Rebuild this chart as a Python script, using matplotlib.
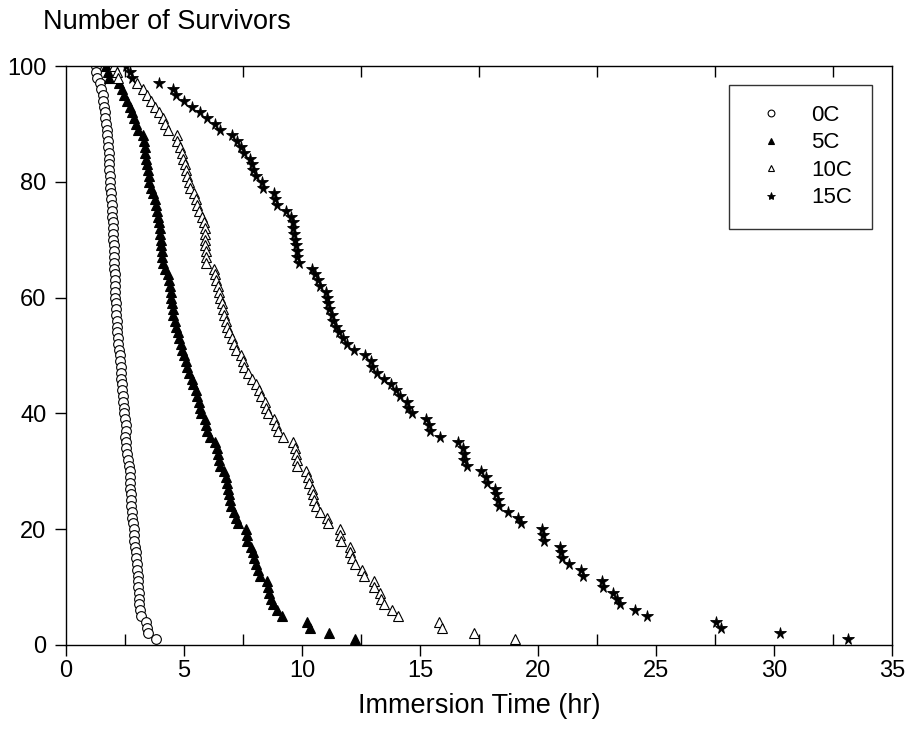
import numpy as np
import matplotlib.pyplot as plt

plt.rcParams['font.family'] = ['Liberation Sans', 'DejaVu Sans']

# number of survivors, one point per death
survivors = list(range(100, 0, -1))

# immersion time (hr) at which each survivor count was reached
time_0c = [1.26, 1.27, 1.30, 1.45, 1.50, 1.55, 1.58, 1.61, 1.64, 1.67,
           1.70, 1.72, 1.74, 1.76, 1.78, 1.80, 1.81, 1.83, 1.84, 1.86,
           1.87, 1.88, 1.90, 1.91, 1.93, 1.94, 1.95, 1.97, 1.98, 2.00,
           2.01, 2.02, 2.03, 2.04, 2.04, 2.05, 2.06, 2.06, 2.07, 2.07,
           2.08, 2.10, 2.11, 2.12, 2.14, 2.15, 2.17, 2.19, 2.22, 2.25,
           2.29, 2.30, 2.32, 2.33, 2.35, 2.36, 2.38, 2.40, 2.42, 2.44,
           2.46, 2.48, 2.52, 2.55, 2.48, 2.52, 2.55, 2.58, 2.62, 2.66,
           2.70, 2.71, 2.72, 2.73, 2.74, 2.75, 2.77, 2.79, 2.81, 2.83,
           2.86, 2.88, 2.90, 2.92, 2.95, 2.97, 2.99, 3.01, 3.03, 3.05,
           3.07, 3.08, 3.09, 3.11, 3.14, 3.17, 3.40, 3.42, 3.49, 3.82]

time_5c = [1.70, 1.78, 1.84, 2.26, 2.38, 2.45, 2.57, 2.69, 2.79, 2.88,
           2.98, 3.07, 3.25, 3.30, 3.33, 3.35, 3.38, 3.42, 3.46, 3.50,
           3.53, 3.62, 3.70, 3.77, 3.83, 3.87, 3.91, 3.94, 3.97, 3.99,
           4.01, 4.03, 4.05, 4.06, 4.12, 4.20, 4.30, 4.36, 4.40, 4.43,
           4.46, 4.49, 4.52, 4.55, 4.62, 4.68, 4.74, 4.80, 4.86, 4.92,
           5.00, 5.07, 5.14, 5.21, 5.33, 5.40, 5.49, 5.57, 5.63, 5.67,
           5.72, 5.88, 5.93, 5.98, 6.10, 6.30, 6.39, 6.43, 6.47, 6.52,
           6.69, 6.76, 6.83, 6.88, 6.91, 6.94, 6.97, 7.10, 7.20, 7.27,
           7.62, 7.66, 7.68, 7.84, 7.91, 7.97, 8.04, 8.12, 8.22, 8.50,
           8.55, 8.62, 8.68, 8.76, 8.92, 9.14, 10.21, 10.32, 11.13, 12.26]

time_10c = [2.04, 2.15, 2.22, 3.00, 3.25, 3.42, 3.58, 3.75, 3.92, 4.10,
            4.20, 4.34, 4.70, 4.72, 4.81, 4.91, 4.97, 5.03, 5.09, 5.14,
            5.19, 5.26, 5.43, 5.50, 5.57, 5.65, 5.76, 5.83, 5.88, 5.90,
            5.90, 5.90, 5.91, 5.92, 5.94, 6.25, 6.32, 6.37, 6.42, 6.48,
            6.54, 6.61, 6.65, 6.70, 6.76, 6.84, 6.92, 7.03, 7.12, 7.20,
            7.40, 7.50, 7.55, 7.72, 7.90, 8.04, 8.16, 8.28, 8.44, 8.49,
            8.54, 8.82, 8.91, 8.97, 9.18, 9.60, 9.70, 9.76, 9.79, 9.80,
            10.18, 10.25, 10.30, 10.42, 10.47, 10.52, 10.58, 10.78, 11.05, 11.12,
            11.63, 11.63, 11.65, 12.02, 12.05, 12.12, 12.26, 12.54, 12.61, 13.07,
            13.07, 13.29, 13.35, 13.46, 13.82, 14.07, 15.80, 15.95, 17.28, 19.02]

time_15c = [2.55, 2.69, 2.79, 3.92, 4.53, 4.67, 5.01, 5.33, 5.66, 5.97,
            6.30, 6.53, 7.03, 7.24, 7.41, 7.52, 7.80, 7.89, 7.93, 8.06,
            8.30, 8.34, 8.82, 8.87, 8.95, 9.30, 9.52, 9.60, 9.63, 9.67,
            9.72, 9.75, 9.77, 9.80, 9.86, 10.42, 10.56, 10.66, 10.75, 11.03,
            11.06, 11.09, 11.13, 11.25, 11.33, 11.43, 11.55, 11.72, 11.91, 12.22,
            12.66, 12.92, 12.97, 13.17, 13.49, 13.75, 14.00, 14.14, 14.45, 14.50,
            14.67, 15.27, 15.39, 15.43, 15.84, 16.60, 16.81, 16.85, 16.88, 16.97,
            17.59, 17.78, 17.84, 18.16, 18.20, 18.30, 18.34, 18.74, 19.15, 19.29,
            20.18, 20.22, 20.25, 20.93, 20.96, 21.03, 21.31, 21.84, 21.89, 22.73,
            22.77, 23.19, 23.33, 23.49, 24.10, 24.61, 27.53, 27.77, 30.26, 33.15]

labels = ['0C', '5C', '10C', '15C']

fig = plt.figure(figsize=(9.07, 7.40), dpi=100)
ax = fig.add_axes([0.0728, 0.1284, 0.9107, 0.7824])

ax.plot(time_0c, survivors, 'o', ls='none', ms=7, mfc='white', mec='black', mew=0.8, label=labels[0])
ax.plot(time_5c, survivors, '^', ls='none', ms=7, mfc='black', mec='black', mew=0.8, label=labels[1])
ax.plot(time_10c, survivors, '^', ls='none', ms=7, mfc='white', mec='black', mew=0.8, label=labels[2])
ax.plot(time_15c, survivors, '*', ls='none', ms=8.5, mfc='black', mec='black', mew=0.6, label=labels[3])

ax.set_xlim(0, 35)
ax.set_ylim(0, 100)
ax.set_xticks(range(0, 36, 5))
ax.set_xticks(np.arange(2.5, 35, 5), minor=True)
ax.set_yticks(range(0, 101, 20))
ax.tick_params(axis='both', which='major', direction='out', length=8, width=1,
               labelsize=17)
ax.tick_params(axis='x', which='major', pad=3)
ax.tick_params(axis='y', which='major', pad=6)
ax.tick_params(axis='x', which='minor', direction='in', length=8, width=1,
               top=True, bottom=True)
for s in ax.spines.values():
    s.set_linewidth(1)

ax.set_xlabel('Immersion Time (hr)', fontsize=19.5, labelpad=8)
fig.text(0.0474, 0.970, 'Number of Survivors', fontsize=19.5, ha='left', va='center')

leg = ax.legend(loc='upper left', bbox_to_anchor=(0.803, 0.968), fontsize=16,
                markerscale=0.7, frameon=True, fancybox=False, edgecolor='black',
                borderpad=0.92, handletextpad=0.85, labelspacing=0.29,
                handlelength=1.9, borderaxespad=0)
leg.get_frame().set_linewidth(1)

fig.savefig('out.png', dpi=100)
